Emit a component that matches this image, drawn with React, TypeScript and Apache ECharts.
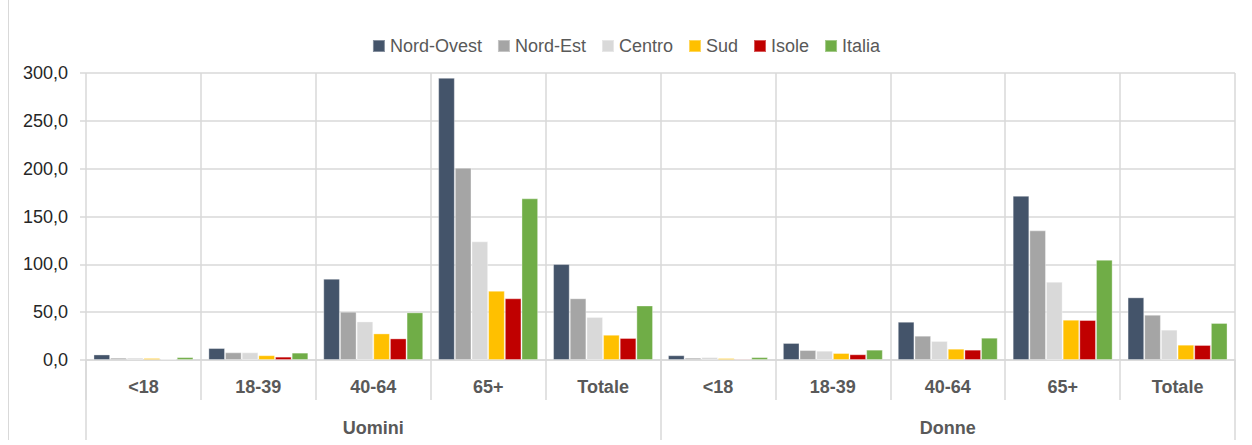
import React, { useEffect, useRef } from "react";
import * as echarts from "echarts";

const ageGroups = ["<18", "18-39", "40-64", "65+", "Totale"];
const sexes = ["Uomini", "Donne"];
const categories = [...ageGroups, ...ageGroups];
const seriesNames = ["Nord-Ovest", "Nord-Est", "Centro", "Sud", "Isole", "Italia"];
const colors = ["#44546A", "#A5A5A5", "#D9D9D9", "#FFC000", "#C00000", "#70AD47"];

const nordOvest = [5.8, 12.5, 85.0, 295.0, 100.3, 5.0, 17.8, 40.0, 171.7, 65.5];
const nordEst = [2.4, 8.0, 50.5, 201.0, 64.5, 2.4, 10.4, 25.4, 135.5, 47.3];
const centro = [2.5, 8.0, 40.3, 124.0, 45.0, 3.0, 9.7, 19.9, 81.8, 31.7];
const sud = [2.0, 5.0, 27.8, 72.4, 26.4, 2.0, 7.3, 11.8, 42.1, 16.0];
const isole = [1.0, 3.5, 22.6, 64.5, 23.0, 1.2, 6.0, 10.8, 41.8, 15.7];
const italia = [3.0, 7.7, 49.8, 169.0, 57.0, 3.0, 10.8, 23.3, 104.8, 38.7];
const seriesData = [nordOvest, nordEst, centro, sud, isole, italia];

const yTicks = { min: 0, max: 300, interval: 50 };

const FONT = "'Liberation Sans Narrow', 'Arial Narrow', 'Liberation Sans', Arial, sans-serif";

export default function App() {
  const ref = useRef<HTMLDivElement>(null);
  useEffect(() => {
    document.body.style.margin = "0";
    const chart = echarts.init(ref.current!, null, { renderer: "svg" });
    chart.setOption({
      animation: false,
      backgroundColor: "#ffffff",
      textStyle: { fontFamily: FONT },
      legend: {
        top: 32,
        left: "center",
        itemWidth: 12,
        itemHeight: 12,
        itemGap: 15,
        icon: "rect",
        textStyle: { fontFamily: FONT, fontSize: 18, color: "#595959" },
        data: seriesNames,
      },
      graphic: [
        {
          type: "line",
          shape: { x1: 8.5, y1: 0, x2: 8.5, y2: 440 },
          style: { stroke: "#d9d9d9", lineWidth: 1 },
        },
      ],
      grid: { left: 86, right: 17, top: 73, bottom: 85, containLabel: false },
      xAxis: [
        {
          type: "category",
          data: categories,
          position: "bottom",
          axisLine: { show: true, lineStyle: { color: "#d9d9d9", width: 1.5 } },
          axisTick: { show: true, alignWithLabel: false, interval: 0, length: 40, lineStyle: { color: "#d9d9d9", width: 1.5 } },
          axisLabel: { interval: 0, margin: 18, fontFamily: FONT, fontSize: 18, fontWeight: "bold", color: "#595959" },
          splitLine: { show: true, interval: 0, lineStyle: { color: "#d9d9d9", width: 1.5 } },
        },
        {
          type: "category",
          data: sexes,
          position: "bottom",
          axisLine: { show: false },
          axisTick: { show: true, interval: 0, length: 80, lineStyle: { color: "#d9d9d9", width: 1.5 } },
          axisLabel: { interval: 0, margin: 59, fontFamily: FONT, fontSize: 18, fontWeight: "bold", color: "#595959" },
          splitLine: { show: false },
        },
      ],
      yAxis: {
        type: "value",
        min: yTicks.min,
        max: yTicks.max,
        interval: yTicks.interval,
        axisLine: { show: false },
        axisTick: { show: true, length: 6, lineStyle: { color: "#d9d9d9", width: 1.5 } },
        axisLabel: {
          margin: 18,
          fontFamily: FONT,
          fontSize: 18,
          color: "#262626",
          formatter: (v: number) => v.toFixed(1).replace(".", ","),
        },
        splitLine: { show: true, lineStyle: { color: "#d9d9d9", width: 1.5 } },
      },
      series: seriesNames.map((name, i) => ({
        name,
        type: "bar",
        xAxisIndex: 0,
        data: seriesData[i],
        barGap: "0%",
        barCategoryGap: "13%",
        itemStyle: { color: colors[i], borderColor: "rgba(255,255,255,0.35)", borderWidth: 1 },
      })),
    });
    return () => chart.dispose();
  }, []);
  return <div ref={ref} style={{ width: 1252, height: 445 }} />;
}
